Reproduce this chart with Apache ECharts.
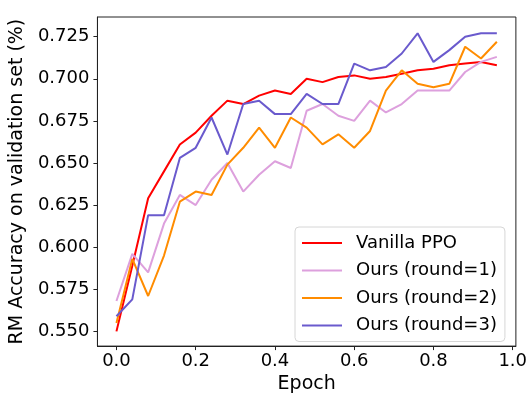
<!DOCTYPE html>
<html>
<head>
<meta charset="utf-8">
<script src="https://cdn.jsdelivr.net/npm/echarts@6/dist/echarts.min.js"></script>
<style>
  html, body { margin: 0; padding: 0; background: #fff; }
  #chart { width: 530px; height: 399px; }
</style>
</head>
<body>
<div id="chart"></div>
<script>
// epochs 0.00 .. 0.96 step 0.04
const epochs = [0.00, 0.04, 0.08, 0.12, 0.16, 0.20, 0.24, 0.28, 0.32, 0.36, 0.40, 0.44,
  0.48, 0.52, 0.56, 0.60, 0.64, 0.68, 0.72, 0.76, 0.80, 0.84, 0.88, 0.92, 0.96]

const vanillaPPO = [0.550, 0.589, 0.629, 0.645, 0.661, 0.668, 0.678, 0.687, 0.685, 0.690, 0.693, 0.691,
  0.700, 0.698, 0.701, 0.702, 0.700, 0.701, 0.703, 0.705, 0.706, 0.708, 0.709, 0.710, 0.708]
const round1 = [0.568, 0.596, 0.585, 0.614, 0.631, 0.625, 0.640, 0.650, 0.633, 0.643, 0.651, 0.647,
  0.681, 0.685, 0.678, 0.675, 0.687, 0.680, 0.685, 0.693, 0.693, 0.693, 0.704, 0.710, 0.713]
const round2 = [0.555, 0.593, 0.571, 0.595, 0.627, 0.633, 0.631, 0.649, 0.659, 0.671, 0.659, 0.677,
  0.671, 0.661, 0.667, 0.659, 0.669, 0.693, 0.705, 0.697, 0.695, 0.697, 0.719, 0.712, 0.722]
const round3 = [0.559, 0.569, 0.619, 0.619, 0.653, 0.659, 0.677, 0.655, 0.685, 0.687, 0.679, 0.679,
  0.691, 0.685, 0.685, 0.709, 0.705, 0.707, 0.715, 0.727, 0.710, 0.717, 0.725, 0.727, 0.727]

const xTicks = [0.0, 0.2, 0.4, 0.6, 0.8, 1.0]
const yTicks = [0.550, 0.575, 0.600, 0.625, 0.650, 0.675, 0.700, 0.725]

const font = 'DejaVu Sans'

const makeSeries = (name, values, color) => ({
  name: name,
  type: 'line',
  symbol: 'none',
  data: epochs.map((e, i) => [e, values[i]]),
  lineStyle: { color: color, width: 2 },
  itemStyle: { color: color },
  animation: false,
})

const chart = echarts.init(document.getElementById('chart'), null, { renderer: 'canvas' })
chart.setOption({
  backgroundColor: '#fff',
  animation: false,
  grid: {
    left: 95,
    right: 12,
    top: 17,
    bottom: 47,
    show: true,
    borderColor: '#222',
    borderWidth: 1,
  },
  xAxis: {
    type: 'value',
    min: -0.048,
    max: 1.008,
    name: 'Epoch',
    nameLocation: 'middle',
    nameGap: 28,
    nameTextStyle: { fontFamily: font, fontSize: 19, color: '#000' },
    splitLine: { show: false },
    axisLine: { show: true, onZero: false, lineStyle: { color: '#222', width: 1 } },
    axisTick: {
      show: true,
      length: 4,
      customValues: xTicks,
      lineStyle: { color: '#222' },
    },
    axisLabel: {
      customValues: xTicks,
      margin: 6,
      fontFamily: font,
      fontSize: 18,
      color: '#000',
      formatter: (v) => v.toFixed(1),
    },
  },
  yAxis: {
    type: 'value',
    min: 0.54125,
    max: 0.73667,
    name: 'RM Accuracy on validation set (%)',
    nameLocation: 'middle',
    nameGap: 54,
    nameTextStyle: { fontFamily: font, fontSize: 19, color: '#000' },
    splitLine: { show: false },
    axisLine: { show: true, onZero: false, lineStyle: { color: '#222', width: 1 } },
    axisTick: {
      show: true,
      length: 4,
      customValues: yTicks,
      lineStyle: { color: '#222' },
    },
    axisLabel: {
      customValues: yTicks,
      margin: 8,
      fontFamily: font,
      fontSize: 18,
      color: '#000',
      formatter: (v) => v.toFixed(3),
    },
  },
  legend: {
    orient: 'vertical',
    left: 295,
    top: 227,
    padding: [7, 8, 7, 7],
    icon: 'rect',
    itemWidth: 40,
    itemHeight: 2,
    itemGap: 9.5,
    borderColor: '#d6d6d6',
    borderWidth: 1,
    borderRadius: 4,
    backgroundColor: 'rgba(255,255,255,0.8)',
    textStyle: { fontFamily: font, fontSize: 18, lineHeight: 18, color: '#000', padding: [0, 0, 0, 9] },
    data: ['Vanilla PPO', 'Ours (round=1)', 'Ours (round=2)', 'Ours (round=3)'],
  },
  series: [
    makeSeries('Vanilla PPO', vanillaPPO, '#ff0000'),
    makeSeries('Ours (round=1)', round1, '#dda0dd'),
    makeSeries('Ours (round=2)', round2, '#ff8c00'),
    makeSeries('Ours (round=3)', round3, '#6a5acd'),
  ],
})
</script>
</body>
</html>
